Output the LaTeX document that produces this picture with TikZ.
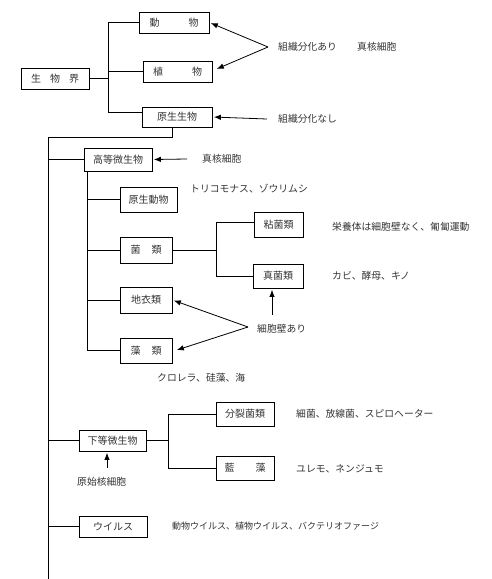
\documentclass[tikz,border=0pt]{standalone}
\usepackage{fontspec}
\setmainfont{Noto Sans CJK JP}
\usetikzlibrary{arrows.meta}
\tikzset{
  box/.style={draw, line width=0.8pt, inner sep=0pt, font=\fontsize{10}{12}\selectfont, text=black!80},
  lbl/.style={anchor=west, inner sep=0pt, font=\fontsize{9.8}{12}\selectfont, text=black!80},
  small/.style={anchor=west, inner sep=0pt, font=\fontsize{9}{11}\selectfont, text=black!80},
  ln/.style={line width=0.8pt},
  arr/.style={line width=0.8pt, -{Latex[length=7pt,width=5.5pt]}, shorten >=1.5pt},
}
\begin{document}
\begin{tikzpicture}[x=1pt,y=-1pt]
\useasboundingbox (0,0) rectangle (491,579);
% boxes
\node[box, minimum width=68pt, minimum height=21pt] (seibutsukai) at (55,78.5) {生\hspace{9pt}物\hspace{9pt}界};
\node[box, minimum width=70pt, minimum height=21pt] (dobutsu) at (174,22.5) {動\hspace{29pt}物};
\node[box, minimum width=69pt, minimum height=21pt] (shokubutsu) at (177.5,71.5) {植\hspace{29pt}物};
\node[box, minimum width=70pt, minimum height=20pt] (genseiseibutsu) at (177,117) {原生生物};
\node[box, minimum width=68pt, minimum height=23pt] (kotou) at (118,159.5) {高等微生物};
\node[box, minimum width=57pt, minimum height=25pt] (genseidoubutsu) at (148.5,199.5) {原生動物};
\node[box, minimum width=52pt, minimum height=26pt] (kinrui) at (146,250) {菌\hspace{11pt}類};
\node[box, minimum width=49pt, minimum height=25pt] (nenkin) at (278.5,224.5) {粘菌類};
\node[box, minimum width=50pt, minimum height=24pt] (shinkin) at (278,276) {真菌類};
\node[box, minimum width=52pt, minimum height=26pt] (chii) at (146,300) {地衣類};
\node[box, minimum width=52pt, minimum height=25pt] (sourui) at (146,350.5) {藻\hspace{11pt}類};
\node[box, minimum width=67pt, minimum height=21pt] (katou) at (112.5,440.5) {下等微生物};
\node[box, minimum width=58pt, minimum height=24pt] (bunretsu) at (245,414) {分裂菌類};
\node[box, minimum width=58pt, minimum height=24pt] (ransou) at (245,468) {藍\hspace{21pt}藻};
\node[box, minimum width=68pt, minimum height=21pt] (virus) at (113,526.5) {ウイルス};
% labels
\node[lbl] (ari1) at (278,47) {組織分化あり};
\node[lbl] (shinkaku1) at (357,47) {真核細胞};
\node[lbl] (nashi) at (278,119) {組織分化なし};
\node[lbl] (shinkaku2) at (202,159) {真核細胞};
\node[lbl] (trico) at (190,189) {トリコモナス、ゾウリムシ};
\node[lbl] (eiyou) at (332,227) {栄養体は細胞壁なく、匍匐運動};
\node[lbl] (kabi) at (332,276) {カビ、酵母、キノ};
\node[lbl] (saibouheki) at (257,329) {細胞壁あり};
\node[lbl] (kurorera) at (157,378) {クロレラ、硅藻、海};
\node[lbl] (saikin) at (296,414) {細菌、放線菌、スピロヘーター};
\node[lbl] (yuremo) at (296,469) {ユレモ、ネンジュモ};
\node[lbl] (genshi) at (77,482) {原始核細胞};
\node[small] (virlist) at (172,526) {動物ウイルス、植物ウイルス、バクテリオファージ};
% junction coordinates
\coordinate (j1) at (108,112);
\coordinate (m1) at (48,137);
\coordinate (mbot) at (48,579);
\coordinate (s1) at (87,171);
\coordinate (s2) at (87,350.5);
\coordinate (k1) at (216,250);
\coordinate (k2) at (168,440.5);
\coordinate (a1) at (268,47);
\coordinate (a2) at (267,119);
\coordinate (a3) at (187,159);
\coordinate (a4) at (248,327);
\coordinate (a5) at (272,315);
\coordinate (a6) at (107,468);
% tree lines
\draw[ln] (seibutsukai.east) -- (seibutsukai.east -| j1);
\draw[ln] (dobutsu.west) -| (j1) -- ([yshift=5pt]genseiseibutsu.west);
\draw[ln] (shokubutsu.west) -- (shokubutsu.west -| j1);
\draw[ln] ([xshift=-5pt]genseiseibutsu.south) |- (m1) -- (mbot);
\draw[ln] (kotou.west -| m1) -- (kotou.west);
\draw[ln] (katou.west -| m1) -- (katou.west);
\draw[ln] (virus.west -| m1) -- (virus.west);
\draw[ln] (s1) -- (s2) -- (sourui.west);
\draw[ln] (genseidoubutsu.west -| s1) -- (genseidoubutsu.west);
\draw[ln] (kinrui.west -| s1) -- (kinrui.west);
\draw[ln] (chii.west -| s1) -- (chii.west);
\draw[ln] (kinrui.east) -- (k1);
\draw[ln] ([yshift=2.5pt]nenkin.west) -| (k1);
\draw[ln] (shinkin.west) -| (k1);
\draw[ln] (katou.east) -- (k2);
\draw[ln] (bunretsu.west) -| (k2);
\draw[ln] (ransou.west) -| (k2);
% arrows
\draw[arr] (a1) -- (dobutsu.east);
\draw[arr] (a1) -- ([xshift=3pt,yshift=2pt]shokubutsu.east);
\draw[arr] (a2) -- (genseiseibutsu.east);
\draw[arr] (a3) -- (kotou.east);
\draw[arr] (a4) -- (chii.east);
\draw[arr] (a4) -- ([xshift=3pt]sourui.east);
\draw[arr] (a5) -- (a5 |- shinkin.south);
\draw[arr] (a6) -- (a6 |- katou.south);
\end{tikzpicture}
\end{document}
